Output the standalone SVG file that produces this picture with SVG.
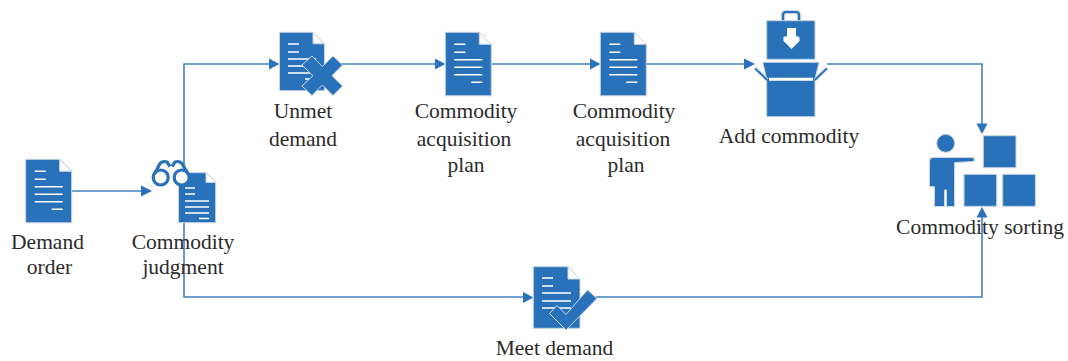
<svg xmlns="http://www.w3.org/2000/svg" width="1068" height="361" viewBox="0 0 1068 361">
<style>
.lbl{font-family:"Liberation Serif","Times New Roman",serif;font-size:21.500px;fill:#2b2b2b;text-anchor:middle}
.conn{fill:none;stroke:#3f83c4;stroke-width:1.600}
.ah{fill:#2a72bb}
.ic{fill:#2972ba;stroke:#c9d5e3;stroke-width:1}
.fold{fill:#fff;stroke:#c9d5e3;stroke-width:1}
.tl{stroke:#fff;stroke-width:1.500;fill:none}
</style>
<defs>
<g id="doc">
<path class="ic" d="M0 0H34L46 12V63.500H0Z"/>
<path class="fold" d="M34 0L46 12H34Z"/>
<path class="tl" d="M9 12H20M9 20H20M9 27.500H37M9 35H37M9 42.500H37M26 50H37"/>
</g>
</defs>
<rect width="1068" height="361" fill="#fff"/>
<g id="connectors">
<path class="conn" d="M72 191H142"/>
<path class="conn" d="M184 170V64H270"/>
<path class="conn" d="M184 222V297H523"/>
<path class="conn" d="M340 64H436"/>
<path class="conn" d="M491 64H591"/>
<path class="conn" d="M646 64H745"/>
<path class="conn" d="M827 64H982V125"/>
<path class="conn" d="M596 297H982V216"/>
<path class="ah" d="M152 191L141 185.500V196.500Z"/>
<path class="ah" d="M279.500 64L269 58.500V69.500Z"/>
<path class="ah" d="M445.500 64L435 58.500V69.500Z"/>
<path class="ah" d="M600.500 64L590 58.500V69.500Z"/>
<path class="ah" d="M755 64L744 58.500V69.500Z"/>
<path class="ah" d="M982 134L976.500 123.500H987.500Z"/>
<path class="ah" d="M982 207L976.500 217.500H987.500Z"/>
<path class="ah" d="M533.500 297.500L523 292V303Z"/>
</g>
<g id="node-demand-order">
<use href="#doc" x="25.700" y="159.300"/>
<text class="lbl" x="47.500" y="249">Demand</text>
<text class="lbl" x="49.500" y="274">order</text>
</g>
<g id="node-commodity-judgment">
<path class="ic" d="M178.500 172.700H206L215.700 182.400V222.700H178.500Z"/>
<path class="fold" d="M206 172.700L215.700 182.400H206Z"/>
<path class="tl" d="M185 188H195M185 194H195M185 201H209M185 207H209M185 213H209M199 218.500H209"/>
<g fill="none" stroke="#2972ba" stroke-width="3.200">
<circle cx="160.700" cy="177.500" r="7.500" fill="#fff"/>
<circle cx="181.700" cy="177.500" r="7.500" fill="#fff"/>
<path d="M154.500 174L160 163.500Q163 160.500 167 162L170 166.500M172 166.500L175 162Q179 160.500 182 163.500L188 174"/>
</g>
<text class="lbl" x="183" y="249">Commodity</text>
<text class="lbl" x="183" y="274">judgment</text>
</g>
<g id="node-unmet-demand">
<path class="ic" d="M279.500 32.300H313L324.500 43.800V90.700H279.500Z"/>
<path class="fold" d="M313 32.300L324.500 43.800H313Z"/>
<path class="tl" d="M288 44H299M288 52H299M288 59H316M288 66H316M288 73H316M305 79H316"/>
<path class="ic" d="M312 56L322.300 66.500L333 56L342.500 65L332 75.700L342.500 86L333 95.500L322.300 85L312 95.500L302 86L313 75.700L302 65Z"/>
<text class="lbl" x="303" y="118">Unmet</text>
<text class="lbl" x="303" y="146">demand</text>
</g>
<g id="node-plan-1">
<use href="#doc" x="445.300" y="32.300"/>
<text class="lbl" x="466" y="118">Commodity</text>
<text class="lbl" x="464" y="146">acquisition</text>
<text class="lbl" x="466" y="172">plan</text>
</g>
<g id="node-plan-2">
<use href="#doc" x="600.300" y="32.300"/>
<text class="lbl" x="624" y="118">Commodity</text>
<text class="lbl" x="623" y="146">acquisition</text>
<text class="lbl" x="626" y="172">plan</text>
</g>
<g id="node-add-commodity">
<path fill="none" stroke="#c9d5e3" stroke-width="4" d="M783 21V15Q783 12 786 12H796Q799 12 799 15V21"/>
<path fill="none" stroke="#2972ba" stroke-width="2.200" d="M783 21V15Q783 12 786 12H796Q799 12 799 15V21"/>
<rect class="ic" x="766.700" y="20.700" width="48.300" height="38.600"/>
<path fill="#fff" d="M787 28H796V36L799.500 37V41L791.500 49L783.500 41V37L787 36Z"/>
<path class="ic" d="M762.700 62.300H819L815 79V116.700H766.700V79Z"/>
<path stroke="#fff" stroke-width="3" d="M769 79.300H813"/>
<path stroke="#c9d5e3" stroke-width="3.500" d="M755 68.300L767.300 80M827 68.300L814.700 80"/>
<path stroke="#2972ba" stroke-width="1.800" d="M755 68.300L767.300 80M827 68.300L814.700 80"/>
<text class="lbl" x="789" y="143">Add commodity</text>
</g>
<g id="node-commodity-sorting">
<circle class="ic" cx="945.700" cy="143.300" r="9"/>
<path class="ic" d="M933 157.500H974V161.500L954.500 162.500V206.500H946.500V190H944.500V206.500H934.500V186.500H929.500V161Q929.500 157.500 933 157.500Z"/>
<rect class="ic" x="983.300" y="135.700" width="32.700" height="32"/>
<rect class="ic" x="964" y="174.300" width="32.700" height="32"/>
<rect class="ic" x="1002.700" y="174.300" width="32.700" height="32"/>
<text class="lbl" x="980" y="234">Commodity sorting</text>
</g>
<g id="node-meet-demand">
<path class="ic" d="M533.300 266.700H568L580 279V328.300H533.300Z"/>
<path class="fold" d="M568 266.700L580 279H568Z"/>
<path class="tl" d="M542 278H553M542 286H553M542 293H571M542 301H571M542 308H571"/>
<path class="ic" d="M549.500 313.500L557 305.500L566 314.500L587.500 290L597 298.500L566 330Z"/>
<text class="lbl" x="554.500" y="355">Meet demand</text>
</g>
</svg>
